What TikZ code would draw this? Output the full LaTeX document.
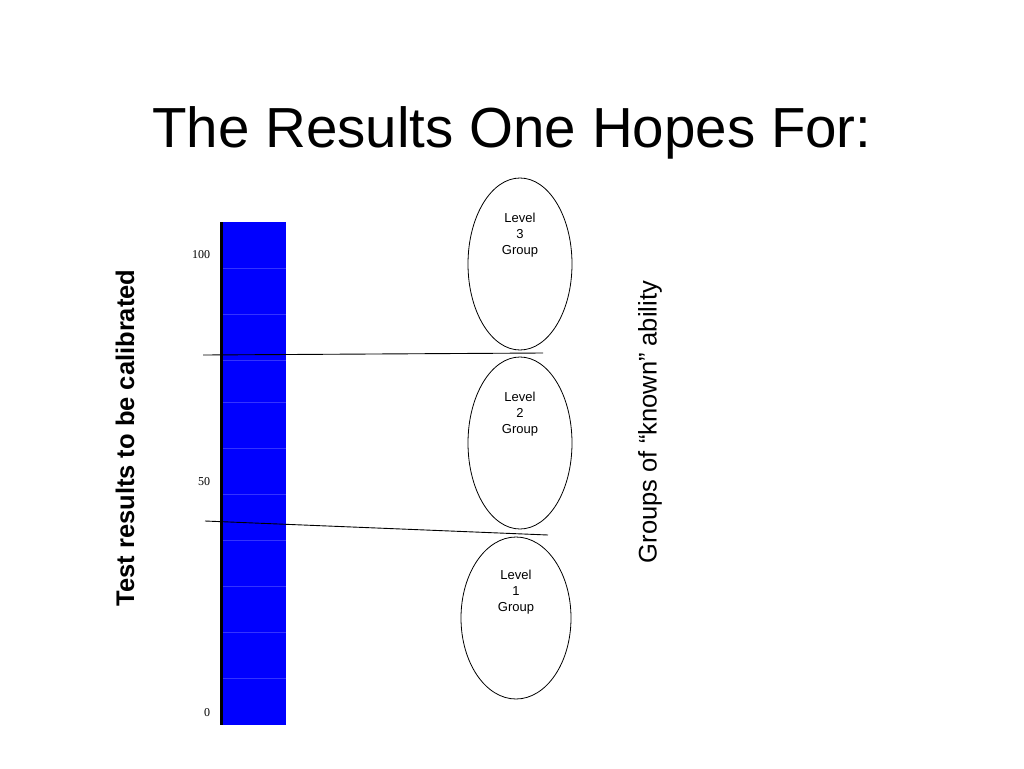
\documentclass[tikz,border=0pt]{standalone}
\usepackage{fontspec}
\setmainfont{Liberation Sans}
\newfontfamily\serif{Liberation Serif}
\begin{document}
\begin{tikzpicture}[x=1pt,y=-1pt,
  grp/.style={draw,line width=0.8pt},
  lbl/.style={font=\fontsize{13}{16}\selectfont,align=center},
  tick/.style={font=\serif\fontsize{12}{14}\selectfont}]
\useasboundingbox (0,0) rectangle (1024,768);
\node (title) at (512,133) {\fontsize{56.5}{60}\selectfont The Results One Hopes For:};
\fill[blue] (220,222) rectangle (286,725);
\foreach \y in {268,314,360,402,448,494,540,586,632,678} \draw[blue!80!white,line width=0.4pt] (222,\y) -- (286,\y);
\draw[line width=3pt] (221.5,222) -- (221.5,725);
\node[tick] (t100) at (201,255) {100};
\node[tick] (t50) at (204,482) {50};
\node[tick] (t0) at (207,713) {0};
\draw[grp] (520,264) ellipse [x radius=52,y radius=86];
\draw[grp] (520,443) ellipse [x radius=52,y radius=86];
\draw[grp] (516,618) ellipse [x radius=55,y radius=81];
\node[lbl] (l3) at (520,235) {Level\\3\\Group};
\node[lbl] (l2) at (520,414) {Level\\2\\Group};
\node[lbl] (l1) at (516,592) {Level\\1\\Group};
\coordinate (a1) at (203,355); \coordinate (a2) at (543,353);
\coordinate (b1) at (205,521); \coordinate (b2) at (548,535);
\draw[line width=0.9pt] (a1) -- (a2);
\draw[line width=0.9pt] (b1) -- (b2);
\node[rotate=90,font=\bfseries\fontsize{25.5}{30}\selectfont] (ya) at (125,438) {Test results to be calibrated};
\node[rotate=90,font=\fontsize{25.5}{30}\selectfont] (yb) at (650,422) {Groups of “known” ability};
\end{tikzpicture}
\end{document}
